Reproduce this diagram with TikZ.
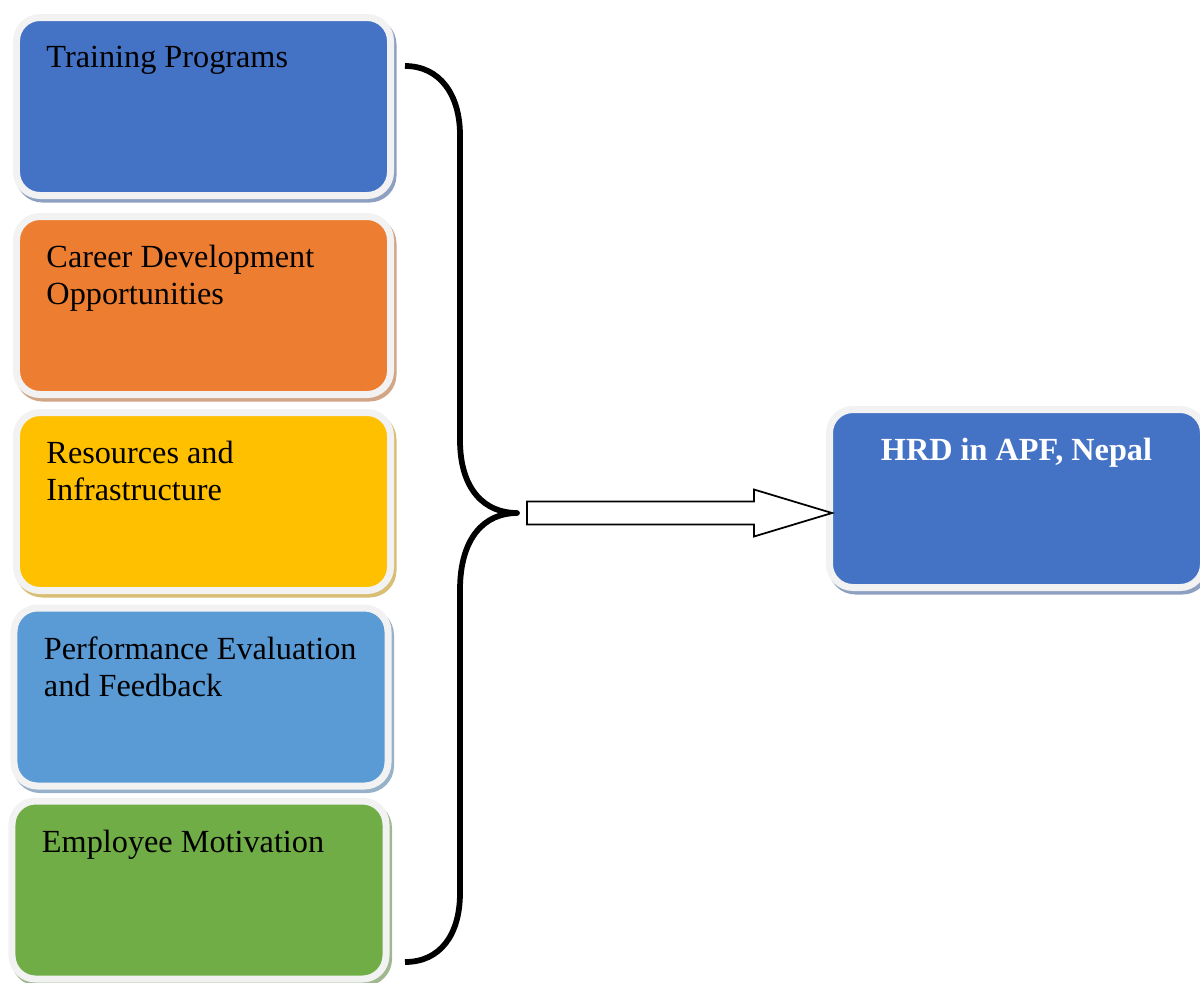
\documentclass[tikz,border=0pt]{standalone}
\usepackage{fontspec}
\setmainfont{Liberation Serif}
\usetikzlibrary{calc}
\definecolor{cBlue}{HTML}{4472C4}
\definecolor{cOrange}{HTML}{ED7D31}
\definecolor{cGold}{HTML}{FFC000}
\definecolor{cSky}{HTML}{5B9BD5}
\definecolor{cGreen}{HTML}{70AD47}
\definecolor{cHalo}{HTML}{F2F2F2}
\definecolor{cShade}{HTML}{BFBFBF}
\begin{document}
\begin{tikzpicture}[x=0.4pt,y=-0.4pt,
    factor/.style={rectangle, rounded corners=9.4pt, draw=cHalo, fill=#1, line width=2.8pt,
      minimum width=149.6pt, minimum height=71.2pt, inner sep=0pt, outer sep=0pt,
      preaction={draw=#1!40!cShade, fill=#1!40!cShade, transform canvas={xshift=1pt,yshift=-1.4pt}}},
    txt/.style={anchor=north west, inner sep=0pt, align=left, xshift=11.8pt, yshift=-11.4pt,
      font=\fontsize{12.9}{14.8}\selectfont},
    head/.style={anchor=north, inner sep=0pt, yshift=-11.4pt, text=white,
      font=\fontsize{12.9}{14.8}\selectfont\bfseries},
    brace/.style={line width=2.3pt, line join=round},
    blockarrow/.style={draw=black, fill=white, line width=0.7pt, line join=miter}]
    \useasboundingbox (0,0) rectangle (1200,982);
    \node[factor=cBlue, label={[txt]north west:Training Programs}] (F1) at (203.5,106.5) {};
    \node[factor=cOrange, label={[txt]north west:Career Development\\Opportunities}] (F2) at (203.5,305.5) {};
    \node[factor=cGold, label={[txt]north west:Resources and\\Infrastructure}] (F3) at (203.5,501.5) {};
    \node[factor=cSky, label={[txt]north west:Performance Evaluation\\and Feedback}] (F4) at (201,697) {};
    \node[factor=cGreen, label={[txt]north west:Employee Motivation}] (F5) at (199,890) {};
    \node[factor=cBlue, label={[head]north:{HRD in APF, Nepal}}] (H) at (1016.5,498.5) {};
    \coordinate (tip) at (517,513);
    \draw[brace] (405,66) .. controls (440,66) and (460,95) .. (460,135) -- (460,440)
      .. controls (460,490) and (485,513) .. (tip)
      .. controls (485,513) and (460,537) .. (460,590) -- (460,893)
      .. controls (460,935) and (440,962) .. (405,962);
    \draw[blockarrow] ($(tip)+(10,-11.5)$) -- ($(H.west|-tip)+(-75.5,-11.5)$)
      -- ($(H.west|-tip)+(-75.5,-23.5)$) -- ($(H.west|-tip)+(2.5,0)$)
      -- ($(H.west|-tip)+(-75.5,23.5)$) -- ($(H.west|-tip)+(-75.5,11.5)$)
      -- ($(tip)+(10,11.5)$) -- cycle;
\end{tikzpicture}
\end{document}
